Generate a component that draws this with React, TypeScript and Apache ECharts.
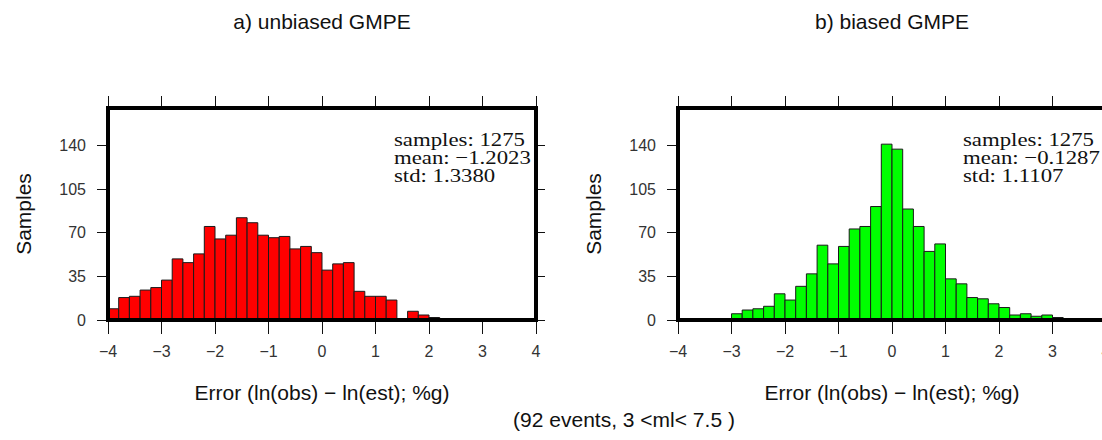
import React, { useEffect, useRef } from "react";
import * as echarts from "echarts";

// Histogram bins: 40 bins of width 0.2 from -4 to 4
const BIN_START = -4;
const BIN_WIDTH = 0.2;
const BIN_COUNT = 40;

const unbiasedCounts = [
  9, 18, 19, 24, 26, 32, 49, 46, 53, 75,
  65, 68, 82, 78, 68, 66, 67, 57, 59, 54,
  40, 45, 46, 23, 19, 19, 16, 1, 7, 4,
  2, 1, 0, 0, 1, 1, 0, 0, 0, 0,
];
const biasedCounts = [
  1, 1, 1, 1, 0, 5, 8, 9, 11, 21,
  16, 27, 37, 60, 45, 59, 73, 75, 91, 141,
  137, 89, 75, 55, 61, 33, 29, 18, 17, 13,
  10, 4, 5, 3, 4, 2, 1, 1, 0, 0,
];

const titles = ["a) unbiased GMPE", "b) biased GMPE"];
const statsA = ["samples: 1275", "mean: \u22121.2023", "std: 1.3380"];
const statsB = ["samples: 1275", "mean: \u22120.1287", "std: 1.1107"];
const yTicks = [0, 35, 70, 105, 140];
const xName = "Error (ln(obs) \u2212 ln(est); %g)";
const yName = "Samples";
const footnote = "(92 events, 3 <ml< 7.5 )";

const SANS = "'Liberation Sans', Arial, Helvetica, sans-serif";
const SERIF = "'Liberation Serif', 'Times New Roman', serif";

function toBins(counts: number[]) {
  const out: number[][] = [];
  for (let i = 0; i < BIN_COUNT; i++) {
    const x0 = +(BIN_START + i * BIN_WIDTH).toFixed(2);
    const x1 = +(BIN_START + (i + 1) * BIN_WIDTH).toFixed(2);
    out.push([x0, x1, counts[i]]);
  }
  return out;
}

const fmtX = (v: number) => (v < 0 ? "\u2212" + Math.abs(v) : String(v));

export default function App() {
  const ref = useRef<HTMLDivElement>(null);
  useEffect(() => {
    if (!ref.current) return;
    const chart = echarts.init(ref.current, null, { renderer: "svg" });

    const gridLefts = [108, 678];
    const grids = gridLefts.map((l) => ({
      left: l,
      top: 108,
      width: 428,
      height: 212,
      show: true,
      borderWidth: 4,
      borderColor: "#000",
      backgroundColor: "transparent",
      containLabel: false,
      outerBoundsMode: "none",
      z: 5,
    }));

    const tickStyle = { color: "#111", width: 1 };
    const xAxes: any[] = [];
    const yAxes: any[] = [];
    [0, 1].forEach((g) => {
      xAxes.push({
        type: "value",
        gridIndex: g,
        min: -4,
        max: 4,
        interval: 1,
        position: "bottom",
        name: xName,
        nameLocation: "middle",
        nameGap: 62,
        nameTextStyle: { fontFamily: SANS, fontSize: 21, color: "#111" },
        axisLine: { show: false, onZero: false },
        axisTick: { show: true, length: 14, lineStyle: tickStyle },
        axisLabel: { formatter: fmtX, margin: 23, fontFamily: SANS, fontSize: 16, color: "#333" },
        splitLine: { show: false },
      });
      xAxes.push({
        type: "value",
        gridIndex: g,
        min: -4,
        max: 4,
        interval: 1,
        position: "top",
        axisLine: { show: false, onZero: false },
        axisTick: { show: true, length: 12, lineStyle: tickStyle },
        axisLabel: { show: false },
        splitLine: { show: false },
      });
      yAxes.push({
        type: "value",
        gridIndex: g,
        min: 0,
        max: 170,
        interval: 35,
        position: "left",
        name: yName,
        nameLocation: "middle",
        nameGap: 74,
        nameRotate: 90,
        nameTextStyle: { fontFamily: SANS, fontSize: 21, color: "#111" },
        axisLine: { show: false, onZero: false },
        axisTick: { show: true, length: 11, customValues: yTicks, lineStyle: tickStyle },
        axisLabel: { customValues: yTicks, margin: 22, fontFamily: SANS, fontSize: 16, color: "#333" },
        splitLine: { show: false },
      });
      yAxes.push({
        type: "value",
        gridIndex: g,
        min: 0,
        max: 170,
        interval: 35,
        position: "right",
        axisLine: { show: false, onZero: false },
        axisTick: { show: true, length: 9, customValues: yTicks, lineStyle: tickStyle },
        axisLabel: { show: false },
        splitLine: { show: false },
      });
    });

    const makeSeries = (counts: number[], g: number, color: string) => ({
      type: "custom",
      xAxisIndex: g * 2,
      yAxisIndex: g * 2,
      data: toBins(counts),
      encode: { x: [0, 1], y: 2 },
      z: 2,
      renderItem: (params: any, api: any) => {
        const x0 = api.value(0);
        const x1 = api.value(1);
        const c = api.value(2);
        if (!c) return null;
        const p0 = api.coord([x0, c]);
        const p1 = api.coord([x1, 0]);
        return {
          type: "rect",
          shape: { x: p0[0], y: p0[1], width: p1[0] - p0[0], height: p1[1] - p0[1] },
          style: { fill: color, stroke: "#1a1a1a", lineWidth: 1 },
        };
      },
    });

    const statText = (lines: string[], x: number) => ({
      type: "text",
      x,
      y: 131,
      scaleX: 1.2,
      z: 10,
      style: {
        text: lines.join("\n"),
        fontFamily: SERIF,
        fontSize: 19,
        lineHeight: 18,
        fill: "#111",
        textAlign: "left",
        textVerticalAlign: "top",
      },
    });

    const graphic: any[] = [
      {
        type: "text",
        x: 322,
        y: 21,
        style: { text: titles[0], fontFamily: SANS, fontSize: 21, fill: "#111", textAlign: "center", textVerticalAlign: "middle" },
      },
      {
        type: "text",
        x: 892,
        y: 21,
        style: { text: titles[1], fontFamily: SANS, fontSize: 21, fill: "#111", textAlign: "center", textVerticalAlign: "middle" },
      },
      {
        type: "text",
        x: 624,
        y: 419,
        style: { text: footnote, fontFamily: SANS, fontSize: 21, fill: "#111", textAlign: "center", textVerticalAlign: "middle" },
      },
      statText(statsA, 394),
      statText(statsB, 963),
    ];

    chart.setOption({
      animation: false,
      backgroundColor: "#fff",
      grid: grids,
      xAxis: xAxes,
      yAxis: yAxes,
      series: [makeSeries(unbiasedCounts, 0, "#ff0000"), makeSeries(biasedCounts, 1, "#00ff00")],
      graphic,
    });

    return () => chart.dispose();
  }, []);

  return (
    <div
      ref={ref}
      style={{ position: "absolute", left: 0, top: 0, width: 1102, height: 440 }}
    />
  );
}
